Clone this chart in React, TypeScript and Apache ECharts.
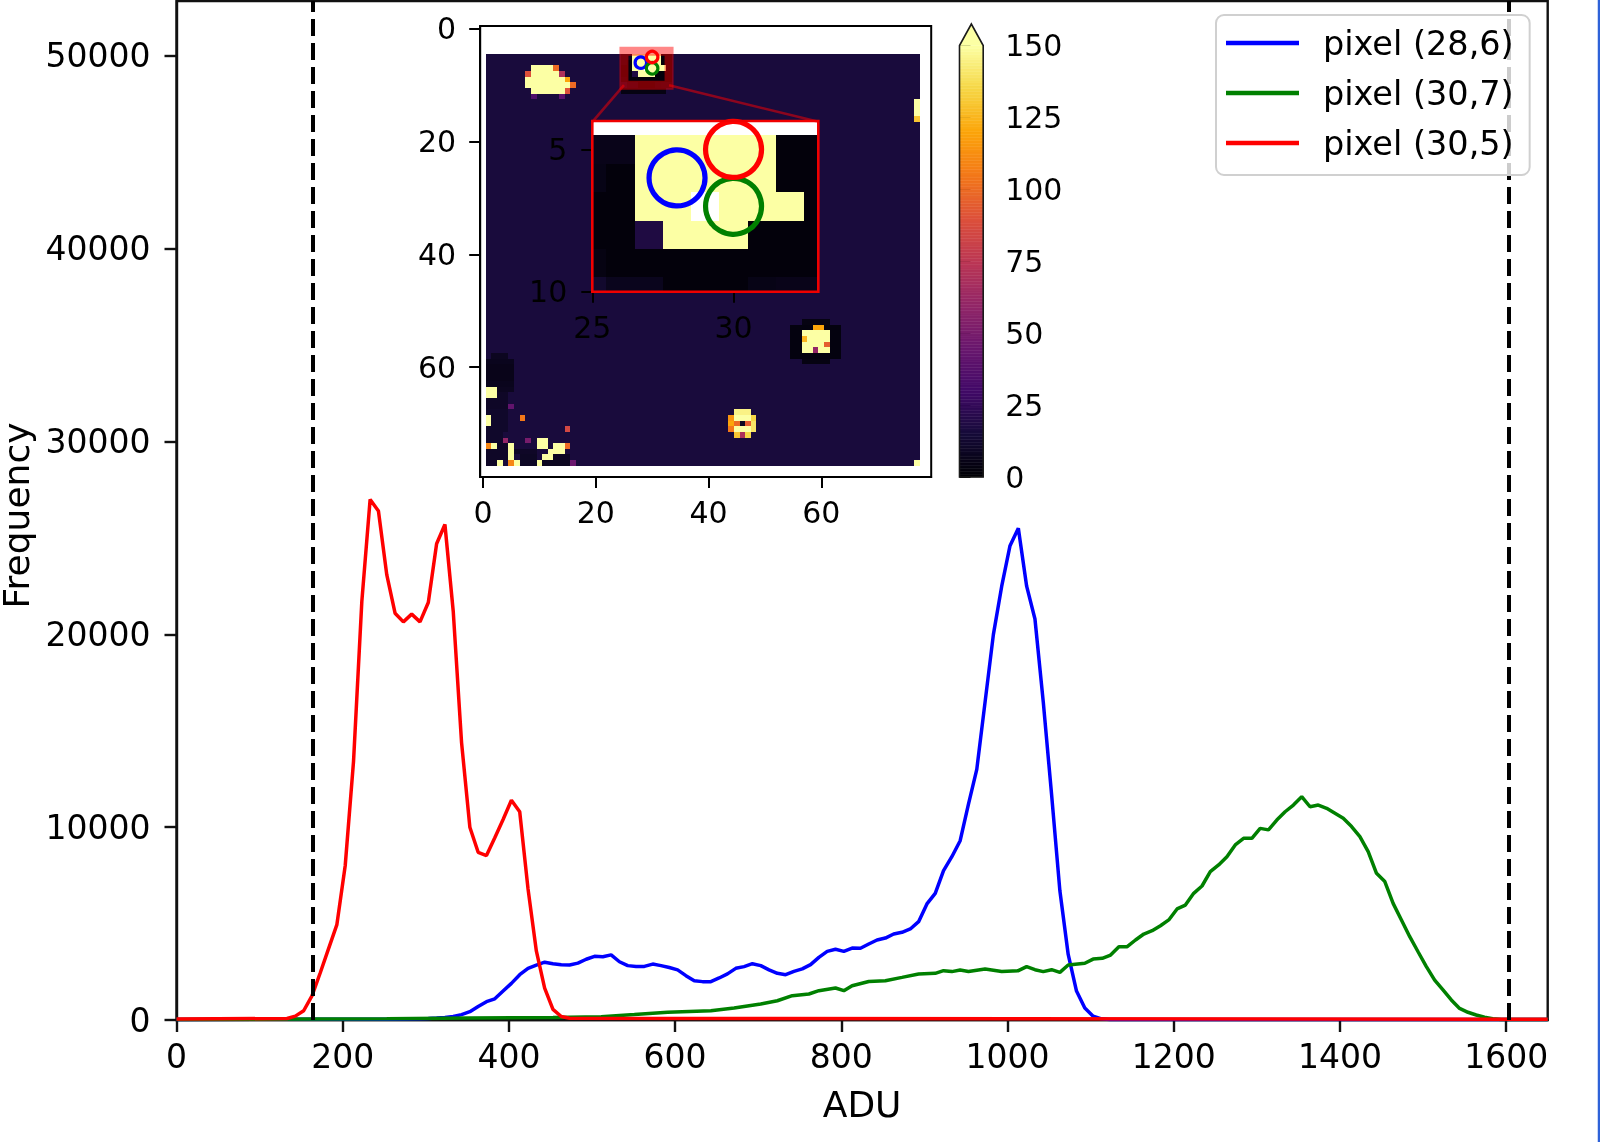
import React, { useEffect, useRef } from "react";
import * as echarts from "echarts";

const FONT = "DejaVu Sans";
const INK = "#000";

const seriesNames = ["pixel (28,6)", "pixel (30,7)", "pixel (30,5)"];
const xTicks = [0, 200, 400, 600, 800, 1000, 1200, 1400, 1600];
const yTicks = [0, 10000, 20000, 30000, 40000, 50000];
const thresholds = [163.5, 1603.5];

const bluePoints = [
  [0, 30], [253, 40], [293, 70], [303, 80], [313, 100], [323, 130], [333, 180], [343, 280], [353, 430], [363, 700],
  [373, 950], [383, 1100], [393, 1500], [403, 1900], [413, 2350], [423, 2680], [433, 2850], [443, 3000], [453, 2920],
  [463, 2870], [473, 2850], [483, 2950], [493, 3150], [503, 3300], [513, 3280], [523, 3380], [533, 3020], [543, 2820],
  [553, 2780], [563, 2780], [573, 2900], [583, 2820], [593, 2720], [603, 2600], [613, 2300], [623, 2040], [633, 1990],
  [643, 1990], [653, 2180], [663, 2390], [673, 2680], [683, 2770], [693, 2920], [703, 2820], [713, 2600], [723, 2420],
  [733, 2350], [743, 2520], [753, 2650], [763, 2870], [773, 3250], [783, 3560], [793, 3670], [803, 3560], [813, 3730],
  [823, 3720], [833, 3940], [843, 4150], [853, 4250], [863, 4460], [873, 4550], [883, 4720], [893, 5100], [903, 6020],
  [913, 6570], [923, 7750], [933, 8470], [943, 9300], [953, 11200], [963, 13000], [973, 16500], [983, 20000],
  [993, 22500], [1003, 24600], [1013, 25500], [1023, 22500], [1033, 20800], [1043, 16500], [1053, 11700], [1063, 6700],
  [1073, 3400], [1083, 1500], [1093, 620], [1103, 200], [1113, 60], [1123, 30], [1650, 30],
];

const greenPoints = [
  [0, 20], [253, 60], [353, 110], [453, 130], [511, 170], [551, 280], [591, 400], [617, 440], [643, 480], [671, 620],
  [703, 830], [723, 1000], [741, 1260], [761, 1350], [773, 1520], [793, 1660], [803, 1520], [813, 1780], [833, 2000],
  [853, 2040], [873, 2210], [893, 2390], [913, 2420], [923, 2560], [933, 2510], [943, 2590], [953, 2520], [973, 2650],
  [993, 2520], [1013, 2560], [1023, 2770], [1033, 2610], [1043, 2510], [1053, 2610], [1063, 2470], [1073, 2850],
  [1093, 2940], [1103, 3160], [1114, 3200], [1124, 3370], [1134, 3800], [1144, 3800], [1154, 4150], [1164, 4460],
  [1174, 4630], [1184, 4890], [1194, 5190], [1204, 5760], [1214, 5960], [1224, 6570], [1234, 6950], [1244, 7690],
  [1254, 8040], [1264, 8470], [1274, 9080], [1284, 9420], [1294, 9420], [1304, 9940], [1314, 9860], [1324, 10370],
  [1334, 10800], [1344, 11150], [1354, 11580], [1364, 11060], [1374, 11150], [1384, 10980], [1394, 10720],
  [1404, 10460], [1414, 10030], [1424, 9510], [1434, 8730], [1444, 7610], [1454, 7180], [1464, 6050], [1474, 5190],
  [1484, 4320], [1494, 3540], [1504, 2770], [1514, 2070], [1524, 1560], [1534, 1040], [1544, 600], [1554, 400],
  [1564, 260], [1574, 140], [1584, 70], [1594, 30], [1650, 20],
];

const redPoints = [
  [0, 50], [133, 80], [143, 200], [153, 480], [163, 1250], [173, 2450], [183, 3700], [193, 4950], [203, 8000],
  [213, 13400], [223, 21700], [233, 27000], [243, 26400], [253, 23100], [263, 21100], [273, 20650], [283, 21050],
  [293, 20650], [303, 21650], [313, 24700], [323, 25700], [333, 21200], [343, 14400], [353, 10000], [363, 8700],
  [373, 8530], [383, 9450], [393, 10400], [403, 11400], [413, 10800], [423, 6800], [433, 3580], [443, 1650],
  [453, 550], [463, 180], [473, 90], [1650, 40],
];

// Detector image: [row, first column, last column, level]; later spans overwrite earlier ones.
const imageRows = [5, 77];
const imageCols = [1, 77];
const imageBaseLevel = 16;
const imageSpans = [
  // dark halo of the top blob
  [4, 24, 34, 3], [11, 25, 32, 4],
  // top blob, as read from the magnified view
  [5, 25, 26, 6], [5, 27, 31, 150], [5, 32, 33, 2], [6, 25, 25, 5], [6, 26, 26, 2], [6, 27, 31, 150], [6, 32, 33, 2],
  [7, 25, 26, 2], [7, 27, 28, 150], [7, 30, 32, 150], [7, 33, 33, 2], [8, 25, 26, 2], [8, 27, 27, 18], [8, 28, 30, 150],
  [8, 31, 33, 2], [9, 25, 25, 4], [9, 26, 33, 2], [10, 25, 25, 12], [10, 26, 27, 7], [10, 28, 30, 2], [10, 31, 31, 5],
  [10, 32, 33, 6],
  // blob upper left
  [7, 9, 12, 150], [7, 13, 13, 100], [8, 9, 13, 150], [8, 8, 8, 90], [8, 14, 14, 70], [9, 8, 14, 150], [9, 15, 15, 120],
  [10, 8, 15, 150], [10, 16, 16, 100], [11, 9, 14, 150], [11, 15, 15, 90], [12, 9, 9, 35], [12, 14, 14, 40],
  // right edge
  [13, 77, 77, 150], [14, 77, 77, 150], [15, 77, 77, 150], [16, 77, 77, 130], [77, 77, 77, 150],
  // halo and blob on the right
  [52, 57, 61, 4], [53, 55, 63, 3], [54, 55, 63, 3], [55, 55, 63, 3], [56, 55, 63, 3], [57, 55, 63, 3], [58, 55, 63, 3],
  [59, 57, 61, 4], [53, 59, 60, 120], [54, 57, 61, 150], [55, 57, 61, 150], [55, 57, 57, 125], [56, 57, 61, 150],
  [56, 61, 61, 95], [57, 57, 58, 150], [57, 59, 59, 60], [57, 60, 61, 150],
  // ring-shaped spot
  [68, 45, 47, 145], [69, 44, 44, 115], [69, 45, 47, 150], [69, 48, 48, 135], [70, 44, 44, 120], [70, 45, 45, 100],
  [70, 46, 46, 8], [70, 47, 47, 95], [70, 48, 48, 140], [71, 44, 44, 105], [71, 45, 47, 150], [71, 48, 48, 140],
  [72, 45, 45, 130], [72, 46, 46, 70], [72, 47, 47, 135],
  // dark corner lower left
  [58, 2, 4, 8], [59, 1, 5, 7], [60, 1, 5, 6], [61, 1, 5, 6], [62, 1, 5, 6], [63, 1, 5, 7], [64, 3, 5, 8], [65, 3, 4, 10],
  [66, 1, 4, 10], [67, 1, 4, 10], [68, 1, 4, 11], [69, 2, 4, 11], [70, 2, 4, 11], [71, 1, 4, 11], [72, 1, 3, 11],
  [73, 1, 3, 11], [74, 3, 4, 10], [75, 1, 4, 10], [76, 1, 4, 10], [77, 1, 2, 10], [75, 6, 9, 10], [76, 7, 9, 9], [77, 7, 9, 9],
  [77, 11, 15, 8], [76, 13, 15, 9],
  // bright spots lower left
  [64, 1, 2, 150], [65, 1, 2, 150], [69, 1, 1, 150], [70, 1, 1, 150], [69, 7, 7, 105], [67, 5, 5, 42], [71, 15, 15, 85], [73, 4, 4, 60],
  [73, 8, 8, 50], [74, 2, 2, 150], [74, 1, 1, 110], [74, 5, 5, 150], [75, 5, 5, 150], [76, 5, 5, 150], [77, 6, 6, 150],
  [77, 5, 5, 110], [77, 3, 3, 150], [73, 10, 11, 150], [74, 10, 11, 150], [75, 12, 12, 150], [76, 11, 12, 150],
  [74, 13, 14, 150], [75, 13, 14, 150], [74, 15, 15, 100], [77, 10, 10, 150], [77, 16, 16, 45],
];
const blankCells = [[29, 7]];

const pixelMarks = [
  { name: seriesNames[0], at: [28, 6], color: "#0000ff" },
  { name: seriesNames[1], at: [30, 7], color: "#008000" },
  { name: seriesNames[2], at: [30, 5], color: "#ff0000" },
];
const zoomWindow = { x: [25, 33], y: [10, 4] };
// Corners of the magnified box, in the image's own coordinates.
const connectorLines = [
  [[25, 10], [19.4, 16.5]],
  [[33, 10], [59.5, 16.5]],
];
const imageTicks = [0, 20, 40, 60];
const zoomXTicks = [25, 30];
const zoomYTicks = [5, 10];
const colorTicks = [0, 25, 50, 75, 100, 125, 150];
const colorLevelMax = 150;
const infernoStops = [
  "#000004", "#160b39", "#420a68", "#6a176e", "#932667", "#bc3754", "#dd513a", "#f37819", "#fca50a", "#f6d746", "#fcffa4",
];

function inferno(level: number) {
  const t = Math.max(0, Math.min(1, level / colorLevelMax)) * (infernoStops.length - 1);
  const i = Math.min(Math.floor(t), infernoStops.length - 2);
  const hex = (s: string, k: number) => parseInt(s.slice(1 + 2 * k, 3 + 2 * k), 16);
  const mix = [0, 1, 2].map((k) =>
    Math.round(hex(infernoStops[i], k) + (hex(infernoStops[i + 1], k) - hex(infernoStops[i], k)) * (t - i))
  );
  return `rgb(${mix.join(",")})`;
}

function imageCells() {
  const levels = new Map<string, number>();
  for (let r = imageRows[0]; r <= imageRows[1]; r++)
    for (let c = imageCols[0]; c <= imageCols[1]; c++) levels.set(`${c},${r}`, imageBaseLevel);
  imageSpans.forEach(([r, a, b, v]) => {
    if (r < imageRows[0] || r > imageRows[1]) return;
    for (let c = a; c <= b; c++) if (c >= imageCols[0] && c <= imageCols[1]) levels.set(`${c},${r}`, v);
  });
  blankCells.forEach(([c, r]) => levels.delete(`${c},${r}`));
  return Array.from(levels, ([k, v]) => [...k.split(",").map(Number), v]);
}

function cellRenderer(params: any, api: any) {
  const c = api.value(0);
  const r = api.value(1);
  const a = api.coord([c - 0.5, r - 0.5]);
  const b = api.coord([c + 0.5, r + 0.5]);
  const cs = params.coordSys;
  const shape = echarts.graphic.clipRectByRect(
    { x: a[0], y: a[1], width: b[0] - a[0], height: b[1] - a[1] },
    { x: cs.x, y: cs.y, width: cs.width, height: cs.height }
  );
  if (!shape) return null;
  // Snapping to whole pixels keeps neighbouring cells from showing seams.
  const x0 = Math.round(shape.x);
  const y0 = Math.round(shape.y);
  const snapped = {
    x: x0,
    y: y0,
    width: Math.round(shape.x + shape.width) - x0,
    height: Math.round(shape.y + shape.height) - y0,
  };
  return { type: "rect", shape: snapped, style: { fill: inferno(api.value(2)) } };
}

const plainNumber = (v: number) => String(v);

function sideAxis(gridIndex: number, min: number, max: number, ticks: number[], marginPx: number, extra: any = {}) {
  return {
    type: "value",
    gridIndex,
    min,
    max,
    splitLine: { show: false },
    axisLine: { show: true, onZero: false, lineStyle: { color: "#000", width: 2 } },
    axisTick: { show: true, length: 11, lineStyle: { color: "#000", width: 2 }, customValues: ticks },
    axisLabel: { show: true, fontFamily: FONT, fontSize: 30, color: INK, margin: marginPx, customValues: ticks, formatter: plainNumber },
    ...extra,
  };
}

export default function App() {
  const ref = useRef<HTMLDivElement>(null);
  useEffect(() => {
    document.body.style.margin = "0";
    const chart = echarts.init(ref.current!, undefined, { renderer: "svg" });
    const cells = imageCells();
    const lineSeries = [bluePoints, greenPoints, redPoints].map((data, i) => ({
      name: seriesNames[i],
      type: "line",
      xAxisIndex: 0,
      yAxisIndex: 0,
      data,
      symbol: "none",
      smooth: false,
      z: 3,
      lineStyle: { color: pixelMarks[i].color, width: 3.5 },
      itemStyle: { color: pixelMarks[i].color },
      ...(i === 0
        ? {
            markLine: {
              silent: true,
              symbol: "none",
              label: { show: false },
              lineStyle: { color: "#000", width: 4, type: [17, 7] },
              data: thresholds.map((x) => ({ xAxis: x })),
            },
          }
        : {}),
    }));
    const circleSeries = (axis: number, size: number, width: number) =>
      pixelMarks.map((m) => ({
        type: "scatter",
        xAxisIndex: axis,
        yAxisIndex: axis,
        data: [m.at],
        symbol: "circle",
        symbolSize: size,
        silent: true,
        z: 6,
        itemStyle: { color: "rgba(0,0,0,0)", borderColor: m.color, borderWidth: width, opacity: 1 },
      }));
    const outerBoundsMode = "none";
    const option: any = {
      animation: false,
      backgroundColor: "#fff",
      textStyle: { fontFamily: FONT },
      grid: [
        { left: 176.5, right: 52.3, top: 1, bottom: 122, show: true, borderColor: "#111", borderWidth: 2.4, backgroundColor: "transparent", outerBoundsMode },
        { left: 480.2, top: 26, width: 451, height: 451, show: true, backgroundColor: "#fff", borderColor: "#000", borderWidth: 2, z: 4, outerBoundsMode },
        { left: 592.3, top: 121, width: 226, height: 170.7, show: true, backgroundColor: "#fff", borderWidth: 0, z: 6, outerBoundsMode },
        { left: 959.5, top: 24, width: 23.7, height: 453, outerBoundsMode },
      ],
      xAxis: [
        {
          type: "value", gridIndex: 0, min: 0, max: 1650, name: "ADU", nameLocation: "middle", nameGap: 66,
          nameTextStyle: { fontFamily: FONT, fontSize: 36, color: INK },
          splitLine: { show: false },
          axisLine: { show: true, lineStyle: { color: "#111", width: 2.4 } },
          axisTick: { show: true, length: 12, lineStyle: { color: "#111", width: 2.4 }, customValues: xTicks },
          axisLabel: { fontFamily: FONT, fontSize: 33, color: INK, margin: 20, customValues: xTicks, formatter: plainNumber },
        },
        sideAxis(1, -0.5, 79.5, imageTicks, 20, { position: "bottom" }),
        sideAxis(2, zoomWindow.x[0], zoomWindow.x[1], zoomXTicks, 21, { position: "bottom", axisLine: { show: false }, z: 8 }),
        { type: "value", gridIndex: 3, min: 0, max: 1, show: false },
      ],
      yAxis: [
        {
          type: "value", gridIndex: 0, min: 0, max: 52850, name: "Frequency", nameLocation: "middle", nameRotate: 90, nameGap: 141,
          nameTextStyle: { fontFamily: FONT, fontSize: 36, color: INK, padding: [0, 10, 0, 0] },
          splitLine: { show: false },
          axisLine: { show: true, lineStyle: { color: "#111", width: 2.4 } },
          axisTick: { show: true, length: 12, lineStyle: { color: "#111", width: 2.4 }, customValues: yTicks },
          axisLabel: { fontFamily: FONT, fontSize: 33, color: INK, margin: 26, customValues: yTicks, formatter: plainNumber },
        },
        sideAxis(1, -0.5, 79.5, imageTicks, 24, { inverse: true, position: "left" }),
        sideAxis(2, zoomWindow.y[1], zoomWindow.y[0], zoomYTicks, 25, { inverse: true, position: "left", axisLine: { show: false }, z: 8 }),
        sideAxis(3, 0, 157.5, colorTicks, 22, { position: "right", axisLine: { show: false } }),
      ],
      legend: {
        left: 1216,
        top: 15,
        orient: "vertical",
        data: seriesNames,
        icon: "rect",
        itemWidth: 73,
        itemHeight: 4.5,
        itemGap: 12,
        padding: [9, 16, 13, 10],
        backgroundColor: "rgba(255,255,255,0.8)",
        borderColor: "#d0d0d0",
        borderWidth: 2,
        borderRadius: 8,
        selectedMode: false,
        z: 9,
        textStyle: { fontFamily: FONT, fontSize: 33.5, color: INK, lineHeight: 38, padding: [0, 0, 0, 19] },
      },
      series: [
        ...lineSeries,
        {
          type: "custom", xAxisIndex: 1, yAxisIndex: 1, data: cells, encode: { x: 0, y: 1 }, silent: true, z: 5,
          renderItem: cellRenderer,
        },
        ...circleSeries(1, 11.5, 3.2),
        {
          type: "custom", xAxisIndex: 1, yAxisIndex: 1, data: [[zoomWindow.x[0], zoomWindow.y[1], zoomWindow.x[1], zoomWindow.y[0]]],
          silent: true, z: 6, clip: false,
          renderItem: (_: any, api: any) => {
            const a = api.coord([api.value(0), api.value(1)]);
            const b = api.coord([api.value(2), api.value(3)]);
            return {
              type: "rect",
              shape: { x: a[0], y: a[1], width: b[0] - a[0], height: b[1] - a[1] },
              style: { fill: "none", stroke: "rgba(255,0,0,0.47)", lineWidth: 9 },
            };
          },
        },
        {
          type: "custom", xAxisIndex: 1, yAxisIndex: 1, data: connectorLines.map((l) => l.flat()),
          silent: true, z: 6,
          renderItem: (_: any, api: any) => {
            const a = api.coord([api.value(0), api.value(1)]);
            const b = api.coord([api.value(2), api.value(3)]);
            return {
              type: "line",
              shape: { x1: a[0], y1: a[1], x2: b[0], y2: b[1] },
              style: { stroke: "rgba(255,0,0,0.5)", lineWidth: 2.6 },
            };
          },
        },
        {
          type: "custom", xAxisIndex: 2, yAxisIndex: 2, data: cells, encode: { x: 0, y: 1 }, silent: true, z: 7,
          renderItem: cellRenderer,
        },
        ...circleSeries(2, 56, 5.2).map((s) => ({ ...s, z: 8 })),
        {
          type: "custom", xAxisIndex: 2, yAxisIndex: 2, data: [[zoomWindow.x[0], zoomWindow.y[1], zoomWindow.x[1], zoomWindow.y[0]]],
          silent: true, z: 9, clip: false,
          renderItem: (_: any, api: any) => {
            const a = api.coord([api.value(0), api.value(1)]);
            const b = api.coord([api.value(2), api.value(3)]);
            return {
              type: "rect",
              shape: { x: a[0], y: a[1], width: b[0] - a[0], height: b[1] - a[1] },
              style: { fill: "none", stroke: "#f00000", lineWidth: 2.6 },
            };
          },
        },
        {
          type: "custom", xAxisIndex: 3, yAxisIndex: 3, silent: true, z: 5,
          data: Array.from({ length: colorLevelMax }, (_, level) => [level]),
          encode: { y: 0 },
          renderItem: (_: any, api: any) => {
            const level = api.value(0);
            const a = api.coord([0, level + 1]);
            const b = api.coord([1, level]);
            const f = inferno(level + 0.5);
            return { type: "rect", shape: { x: a[0], y: a[1], width: b[0] - a[0], height: b[1] - a[1] }, style: { fill: f, stroke: f, lineWidth: 0.5 } };
          },
        },
        {
          type: "custom", xAxisIndex: 3, yAxisIndex: 3, silent: true, z: 6, clip: false,
          data: [[colorLevelMax, 157.5]],
          renderItem: (_: any, api: any) => {
            const top = api.value(0);
            const tip = api.value(1);
            const points = [[0, 0], [1, 0], [1, top], [0.5, tip], [0, top]].map((p) => api.coord(p));
            return {
              type: "group",
              children: [
                { type: "polygon", shape: { points: points.slice(2) }, style: { fill: infernoStops[10], stroke: "none" } },
                { type: "polygon", shape: { points }, style: { fill: "none", stroke: "#1a1a1a", lineWidth: 1.6 } },
              ],
            };
          },
        },
      ],
      graphic: [
        { type: "line", shape: { x1: 1599, y1: 0, x2: 1599, y2: 1142 }, style: { stroke: "#2e62d8", lineWidth: 2.5 }, silent: true },
      ],
    };
    chart.setOption(option);
    return () => chart.dispose();
  }, []);
  return (
    <div
      ref={ref}
      style={{ position: "absolute", left: 0, top: 0, width: 1600, height: 1142, filter: "blur(0.6px)" }}
    />
  );
}
